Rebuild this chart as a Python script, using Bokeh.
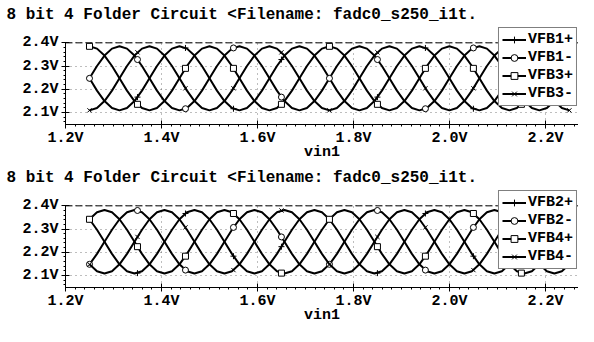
from bokeh.plotting import figure
from bokeh.layouts import column
from bokeh.models import (Legend, LegendItem, SingleIntervalTicker,
                          PrintfTickFormatter, Range1d, Span)
from bokeh.embed import file_html
from bokeh.resources import INLINE
import numpy as np

# ---------------- data ----------------
TITLE = "8 bit 4 Folder Circuit <Filename: fadc0_s250_i1t."
X_LABEL = "vin1"
X_RANGE = (1.2, 2.269)
Y_BOTTOM, Y_TOP_TICK, Y_HEADROOM_END = 2.048, 2.4, 2.4704

# DC sweep of vin1: 1.25 V .. 2.25 V, 65 samples
VIN_START, VIN_STOP, VIN_POINTS = 1.25, 2.25, 65
vin = np.linspace(VIN_START, VIN_STOP, VIN_POINTS)
marker_vin = [1.25, 1.35, 1.45, 1.55, 1.65, 1.75, 1.85, 1.95, 2.05, 2.15, 2.25]

# top panel
vfb1_p = [2.247, 2.194, 2.149, 2.119, 2.109, 2.119, 2.149, 2.194, 2.247, 2.300, 2.345, 2.375, 2.385, 2.375, 2.345, 2.300,
          2.247, 2.194, 2.149, 2.119, 2.109, 2.119, 2.149, 2.194, 2.247, 2.300, 2.345, 2.375, 2.385, 2.375, 2.345, 2.300,
          2.247, 2.194, 2.149, 2.119, 2.109, 2.119, 2.149, 2.194, 2.247, 2.300, 2.345, 2.375, 2.385, 2.375, 2.345, 2.300,
          2.247, 2.194, 2.149, 2.119, 2.109, 2.119, 2.149, 2.194, 2.247, 2.300, 2.345, 2.375, 2.385, 2.375, 2.345, 2.300,
          2.247]
vfb1_m = [2.247, 2.300, 2.345, 2.375, 2.385, 2.375, 2.345, 2.300, 2.247, 2.194, 2.149, 2.119, 2.109, 2.119, 2.149, 2.194,
          2.247, 2.300, 2.345, 2.375, 2.385, 2.375, 2.345, 2.300, 2.247, 2.194, 2.149, 2.119, 2.109, 2.119, 2.149, 2.194,
          2.247, 2.300, 2.345, 2.375, 2.385, 2.375, 2.345, 2.300, 2.247, 2.194, 2.149, 2.119, 2.109, 2.119, 2.149, 2.194,
          2.247, 2.300, 2.345, 2.375, 2.385, 2.375, 2.345, 2.300, 2.247, 2.194, 2.149, 2.119, 2.109, 2.119, 2.149, 2.194,
          2.247]
vfb3_p = [2.385, 2.375, 2.345, 2.300, 2.247, 2.194, 2.149, 2.119, 2.109, 2.119, 2.149, 2.194, 2.247, 2.300, 2.345, 2.375,
          2.385, 2.375, 2.345, 2.300, 2.247, 2.194, 2.149, 2.119, 2.109, 2.119, 2.149, 2.194, 2.247, 2.300, 2.345, 2.375,
          2.385, 2.375, 2.345, 2.300, 2.247, 2.194, 2.149, 2.119, 2.109, 2.119, 2.149, 2.194, 2.247, 2.300, 2.345, 2.375,
          2.385, 2.375, 2.345, 2.300, 2.247, 2.194, 2.149, 2.119, 2.109, 2.119, 2.149, 2.194, 2.247, 2.300, 2.345, 2.375,
          2.385]
vfb3_m = [2.109, 2.119, 2.149, 2.194, 2.247, 2.300, 2.345, 2.375, 2.385, 2.375, 2.345, 2.300, 2.247, 2.194, 2.149, 2.119,
          2.109, 2.119, 2.149, 2.194, 2.247, 2.300, 2.345, 2.375, 2.385, 2.375, 2.345, 2.300, 2.247, 2.194, 2.149, 2.119,
          2.109, 2.119, 2.149, 2.194, 2.247, 2.300, 2.345, 2.375, 2.385, 2.375, 2.345, 2.300, 2.247, 2.194, 2.149, 2.119,
          2.109, 2.119, 2.149, 2.194, 2.247, 2.300, 2.345, 2.375, 2.385, 2.375, 2.345, 2.300, 2.247, 2.194, 2.149, 2.119,
          2.109]
# marker values (at marker_vin)
vfb1_p_mk = [2.247, 2.166, 2.378, 2.116, 2.328, 2.247, 2.166, 2.378, 2.116, 2.328, 2.247]
vfb1_m_mk = [2.247, 2.328, 2.116, 2.378, 2.166, 2.247, 2.328, 2.116, 2.378, 2.166, 2.247]
vfb3_p_mk = [2.385, 2.135, 2.290, 2.290, 2.135, 2.385, 2.135, 2.290, 2.290, 2.135, 2.385]
vfb3_m_mk = [2.109, 2.359, 2.204, 2.204, 2.359, 2.109, 2.359, 2.204, 2.204, 2.359, 2.109]

# bottom panel
vfb2_p = [2.342, 2.297, 2.245, 2.193, 2.148, 2.118, 2.108, 2.118, 2.148, 2.193, 2.245, 2.297, 2.342, 2.372, 2.382, 2.372,
          2.342, 2.297, 2.245, 2.193, 2.148, 2.118, 2.108, 2.118, 2.148, 2.193, 2.245, 2.297, 2.342, 2.372, 2.382, 2.372,
          2.342, 2.297, 2.245, 2.193, 2.148, 2.118, 2.108, 2.118, 2.148, 2.193, 2.245, 2.297, 2.342, 2.372, 2.382, 2.372,
          2.342, 2.297, 2.245, 2.193, 2.148, 2.118, 2.108, 2.118, 2.148, 2.193, 2.245, 2.297, 2.342, 2.372, 2.382, 2.372,
          2.342]
vfb2_m = [2.148, 2.193, 2.245, 2.297, 2.342, 2.372, 2.382, 2.372, 2.342, 2.297, 2.245, 2.193, 2.148, 2.118, 2.108, 2.118,
          2.148, 2.193, 2.245, 2.297, 2.342, 2.372, 2.382, 2.372, 2.342, 2.297, 2.245, 2.193, 2.148, 2.118, 2.108, 2.118,
          2.148, 2.193, 2.245, 2.297, 2.342, 2.372, 2.382, 2.372, 2.342, 2.297, 2.245, 2.193, 2.148, 2.118, 2.108, 2.118,
          2.148, 2.193, 2.245, 2.297, 2.342, 2.372, 2.382, 2.372, 2.342, 2.297, 2.245, 2.193, 2.148, 2.118, 2.108, 2.118,
          2.148]
vfb4_p = [2.342, 2.372, 2.382, 2.372, 2.342, 2.297, 2.245, 2.193, 2.148, 2.118, 2.108, 2.118, 2.148, 2.193, 2.245, 2.297,
          2.342, 2.372, 2.382, 2.372, 2.342, 2.297, 2.245, 2.193, 2.148, 2.118, 2.108, 2.118, 2.148, 2.193, 2.245, 2.297,
          2.342, 2.372, 2.382, 2.372, 2.342, 2.297, 2.245, 2.193, 2.148, 2.118, 2.108, 2.118, 2.148, 2.193, 2.245, 2.297,
          2.342, 2.372, 2.382, 2.372, 2.342, 2.297, 2.245, 2.193, 2.148, 2.118, 2.108, 2.118, 2.148, 2.193, 2.245, 2.297,
          2.342]
vfb4_m = [2.148, 2.118, 2.108, 2.118, 2.148, 2.193, 2.245, 2.297, 2.342, 2.372, 2.382, 2.372, 2.342, 2.297, 2.245, 2.193,
          2.148, 2.118, 2.108, 2.118, 2.148, 2.193, 2.245, 2.297, 2.342, 2.372, 2.382, 2.372, 2.342, 2.297, 2.245, 2.193,
          2.148, 2.118, 2.108, 2.118, 2.148, 2.193, 2.245, 2.297, 2.342, 2.372, 2.382, 2.372, 2.342, 2.297, 2.245, 2.193,
          2.148, 2.118, 2.108, 2.118, 2.148, 2.193, 2.245, 2.297, 2.342, 2.372, 2.382, 2.372, 2.342, 2.297, 2.245, 2.193,
          2.148]
vfb2_p_mk = [2.342, 2.110, 2.367, 2.183, 2.224, 2.342, 2.110, 2.367, 2.183, 2.224, 2.342]
vfb2_m_mk = [2.148, 2.380, 2.123, 2.307, 2.266, 2.148, 2.380, 2.123, 2.307, 2.266, 2.148]
vfb4_p_mk = [2.342, 2.224, 2.183, 2.367, 2.110, 2.342, 2.224, 2.183, 2.367, 2.110, 2.342]
vfb4_m_mk = [2.148, 2.266, 2.307, 2.123, 2.380, 2.148, 2.266, 2.307, 2.123, 2.380, 2.148]

TOP_SERIES = [("VFB1+", vfb1_p, vfb1_p_mk, "cross"),
              ("VFB1-", vfb1_m, vfb1_m_mk, "circle"),
              ("VFB3+", vfb3_p, vfb3_p_mk, "square"),
              ("VFB3-", vfb3_m, vfb3_m_mk, "x")]
BOTTOM_SERIES = [("VFB2+", vfb2_p, vfb2_p_mk, "cross"),
                 ("VFB2-", vfb2_m, vfb2_m_mk, "circle"),
                 ("VFB4+", vfb4_p, vfb4_p_mk, "square"),
                 ("VFB4-", vfb4_m, vfb4_m_mk, "x")]

FONT = "Liberation Mono"


def make_panel(series, height, border_top):
    p = figure(width=578, height=height,
               x_range=Range1d(*X_RANGE),
               y_range=Range1d(Y_BOTTOM, Y_HEADROOM_END),
               output_backend="svg", toolbar_location=None,
               min_border_left=65, min_border_right=0,
               min_border_top=border_top, min_border_bottom=20)
    p.background_fill_color = "white"
    p.border_fill_color = "white"
    p.outline_line_color = None

    p.title.text = TITLE
    p.title.align = "left"
    p.title.offset = -59
    p.title.standoff = 5
    p.title.text_font = FONT
    p.title.text_font_size = "16px"
    p.title.text_font_style = "bold"
    p.title.text_color = "black"

    p.xaxis.ticker = SingleIntervalTicker(interval=0.2, num_minor_ticks=10)
    p.yaxis.ticker = SingleIntervalTicker(interval=0.1, num_minor_ticks=5)
    p.xaxis.formatter = PrintfTickFormatter(format="%.1fV")
    p.yaxis.formatter = PrintfTickFormatter(format="%.1fV")
    p.yaxis.bounds = (Y_BOTTOM, Y_TOP_TICK + 0.001)
    p.xaxis.axis_label = X_LABEL
    for ax in (p.xaxis, p.yaxis):
        ax.major_label_text_font = FONT
        ax.major_label_text_font_size = "15px"
        ax.major_label_text_font_style = "bold"
        ax.major_label_text_color = "black"
        ax.major_label_text_line_height = 1.0
        ax.axis_line_color = "black"
        ax.major_tick_line_color = "black"
        ax.minor_tick_line_color = "black"
        ax.major_tick_in = 4
        ax.major_tick_out = 4
        ax.minor_tick_in = 0
        ax.minor_tick_out = 2
    p.xaxis.major_label_standoff = 1
    p.yaxis.major_label_standoff = 3
    p.xaxis.axis_label_text_font = FONT
    p.xaxis.axis_label_text_font_size = "15px"
    p.xaxis.axis_label_text_font_style = "bold"
    p.xaxis.axis_label_text_color = "black"
    p.xaxis.axis_label_text_line_height = 1.0
    p.xaxis.axis_label_standoff = -6

    p.grid.grid_line_color = "#444444"
    p.grid.grid_line_dash = "1 4"
    p.grid.grid_line_alpha = 0.7
    p.xgrid.cross_bounds = (Y_BOTTOM, Y_TOP_TICK)

    # dashed top border of the plotting box at 2.4 V
    p.add_layout(Span(location=Y_TOP_TICK, dimension="width", line_color="black",
                      line_dash="7 3", line_width=1))

    items = []
    for name, ys, mk, marker in series:
        lr = p.line(vin, ys, line_color="black", line_width=2)
        sr = p.scatter(marker_vin, mk, marker=marker, size=6,
                       line_color="black", fill_color="white", line_width=1)
        items.append(LegendItem(label=name, renderers=[lr, sr]))

    legend = Legend(items=items, location="top_right")
    legend.label_text_font = FONT
    legend.label_text_font_size = "15px"
    legend.label_text_font_style = "bold"
    legend.label_text_color = "black"
    legend.glyph_width = 24
    legend.glyph_height = 17
    legend.label_height = 17
    legend.label_standoff = 2
    legend.spacing = 1
    legend.padding = 3
    legend.margin = 1
    legend.border_line_color = "black"
    legend.border_line_width = 1
    legend.background_fill_color = "white"
    legend.background_fill_alpha = 1.0
    p.add_layout(legend, "center")
    return p


top = make_panel(TOP_SERIES, height=163, border_top=26)
bottom = make_panel(BOTTOM_SERIES, height=163, border_top=26)

layout = column(top, bottom, spacing=0)

with open("out.html", "w") as f:
    f.write(file_html(layout, INLINE))
